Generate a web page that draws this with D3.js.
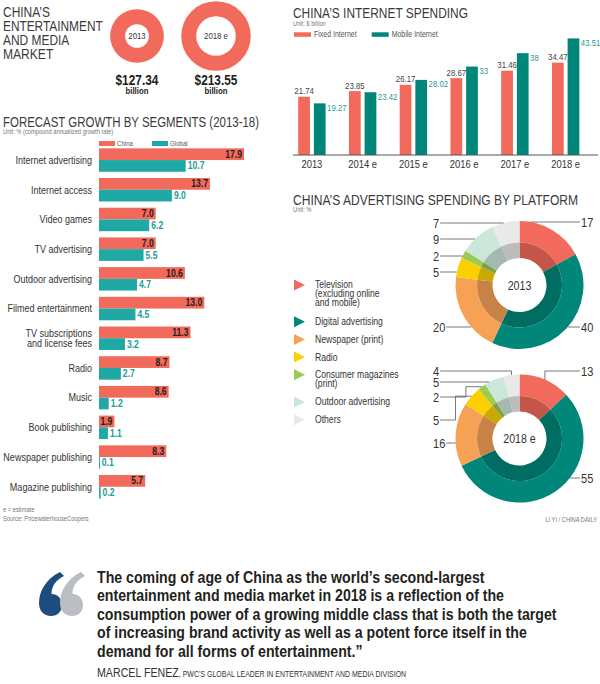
<!DOCTYPE html>
<html lang="en">
<head>
  <meta charset="UTF-8">
  <title>China's Entertainment and Media Market</title>
  <script src="https://d3js.org/d3.v7.min.js"></script>
  <style>
    body { margin: 0; padding: 0; background: #fff; }
    svg { display: block; font-family: 'Liberation Sans', Arial, sans-serif; }
  </style>
</head>
<body>
  <svg id="chart" width="600" height="684"></svg>

  <script>
    // Market size, $ billion
    const marketYears = ["2013", "2018 e"];
    const marketValues = [127.34, 213.55];

    // Forecast growth by segment 2013-18, % CAGR
    const segments = ["Internet advertising", "Internet access", "Video games", "TV advertising",
      "Outdoor advertising", "Filmed entertainment", "TV subscriptions\nand license fees", "Radio",
      "Music", "Book publishing", "Newspaper publishing", "Magazine publishing"];
    const chinaGrowth = [17.9, 13.7, 7.0, 7.0, 10.6, 13.0, 11.3, 8.7, 8.6, 1.9, 8.3, 5.7];
    const globalGrowth = [10.7, 9.0, 6.2, 5.5, 4.7, 4.5, 3.2, 2.7, 1.2, 1.1, 0.1, 0.2];

    // Internet spending, $ billion
    const spendYears = ["2013", "2014 e", "2015 e", "2016 e", "2017 e", "2018 e"];
    const fixedInternet = [21.74, 23.85, 26.17, 28.67, 31.46, 34.47];
    const mobileInternet = [19.27, 23.42, 28.02, 33, 38, 43.51];

    // Advertising spending by platform, %
    const platforms = ["Television\n(excluding online\nand mobile)", "Digital advertising", "Newspaper (print)",
      "Radio", "Consumer magazines\n(print)", "Outdoor advertising", "Others"];
    const adYears = ["2013", "2018 e"];
    const adShare2013 = [17, 40, 20, 5, 2, 9, 7];
    const adShare2018 = [13, 55, 16, 5, 2, 5, 4];

    // colours
    const RED = "#f26a5b", TEAL = "#1fa8a4", DARK_TEAL = "#00877a";
    const platformColors = [RED, DARK_TEAL, "#f7a155", "#fcd000", "#9cca55", "#cbe7d9", "#e9e9e9"];

    // hand placed label rows for the two donuts (layout only)
    const labelRows2013 = [222, 327, 327, 272, 256, 239, 223];
    const labelRows2018 = [371, 478, 443, 420, 397, 382, 371];

    const K = 0.82; // horizontal squeeze to fake a condensed face

    const svg = d3.select("#chart");

    function heading(x, y, text, width) {
      svg.append("text")
        .attr("x", x).attr("y", y)
        .attr("font-size", 14).attr("fill", "#3a3a3a")
        .attr("textLength", width).attr("lengthAdjust", "spacingAndGlyphs")
        .text(text);
    }
    function note(x, y, text, anchor) {
      svg.append("text")
        .attr("x", x).attr("y", y)
        .attr("font-size", 7).attr("fill", "#777")
        .attr("text-anchor", anchor || "start")
        .text(text);
    }

    // ---------- top left: market size rings ----------
    ["CHINA’S", "ENTERTAINMENT", "AND MEDIA", "MARKET"].forEach((t, i) => {
      heading(3, 17.3 + i * 14, t, [47, 99.7, 66.3, 50.3][i]);
    });

    const rMarket = d3.scaleSqrt().domain([0, d3.max(marketValues)]).range([0, 34.8]);
    const xMarket = d3.scalePoint().domain(marketYears).range([137, 216]);
    marketYears.forEach((yr, i) => {
      const r = rMarket(marketValues[i]);
      const cx = xMarket(yr);
      svg.append("path")
        .attr("transform", `translate(${cx},36)`)
        .attr("d", d3.arc().innerRadius(r - 15).outerRadius(r)({ startAngle: 0, endAngle: 2 * Math.PI }))
        .attr("fill", RED);
      svg.append("text").attr("x", cx).attr("y", 39.5).attr("text-anchor", "middle")
        .attr("font-size", 9.5).attr("fill", "#333").text(yr);
      svg.append("text").attr("x", cx).attr("y", 85).attr("text-anchor", "middle")
        .attr("font-size", 14.5).attr("font-weight", "bold").attr("fill", "#231f20")
        .text("$" + marketValues[i].toFixed(2));
      svg.append("text").attr("x", cx).attr("y", 94.5).attr("text-anchor", "middle")
        .attr("font-size", 9.5).attr("font-weight", "bold").attr("fill", "#231f20")
        .text("billion");
    });

    // ---------- left: forecast growth bars ----------
    heading(3, 127.3, "FORECAST GROWTH BY SEGMENTS (2013-18)", 256);
    note(3, 134.5, "Unit: % (compound annualized growth rate)");

    const xGrowth = d3.scaleLinear().domain([0, 20]).range([99, 261]);
    const step = 29.7;
    const yGrowth = d3.scaleBand().domain(segments)
      .range([145.2, 145.2 + segments.length * step])
      .paddingInner(0.21).paddingOuter(0.105);
    const half = yGrowth.bandwidth() / 2;

    [["China", RED, 99], ["Global", TEAL, 152]].forEach(([name, col, x]) => {
      svg.append("rect").attr("x", x).attr("y", 141).attr("width", 16).attr("height", 5).attr("fill", col);
      svg.append("text").attr("x", x + 18).attr("y", 146.5).attr("font-size", 7.5).attr("fill", "#555").text(name);
    });

    segments.forEach((seg, i) => {
      const y0 = yGrowth(seg);
      svg.append("rect")
        .attr("x", xGrowth(0)).attr("y", y0)
        .attr("width", xGrowth(chinaGrowth[i]) - xGrowth(0)).attr("height", half)
        .attr("fill", RED);
      svg.append("rect")
        .attr("x", xGrowth(0)).attr("y", y0 + half)
        .attr("width", Math.max(1, xGrowth(globalGrowth[i]) - xGrowth(0))).attr("height", half)
        .attr("fill", TEAL);
      svg.append("text")
        .attr("x", xGrowth(chinaGrowth[i]) - 2).attr("y", y0 + half - 2.3)
        .attr("text-anchor", "end").attr("font-size", 10.5).attr("font-weight", "bold")
        .attr("fill", "#231f20").text(chinaGrowth[i].toFixed(1));
      svg.append("text")
        .attr("x", xGrowth(globalGrowth[i]) + 2).attr("y", y0 + 2 * half - 2.3)
        .attr("font-size", 10.5).attr("font-weight", "bold")
        .attr("fill", "#1a9e99").text(globalGrowth[i].toFixed(1));

      const lines = seg.split("\n");
      const mid = y0 + half;
      lines.forEach((ln, j) => {
        svg.append("text")
          .attr("x", 92).attr("y", mid + 3.8 + (j - (lines.length - 1) / 2) * 9.6)
          .attr("text-anchor", "end").attr("font-size", 11).attr("fill", "#333")
          .text(ln);
      });
    });

    note(3, 512.5, "e = estimate");
    note(3, 521.5, "Source: PricewaterhouseCoopers");

    // ---------- top right: internet spending ----------
    heading(293, 18.3, "CHINA’S INTERNET SPENDING", 175);
    note(293, 26.5, "Unit: $ billion");
    [["Fixed Internet", RED, 294], ["Mobile Internet", DARK_TEAL, 371.7]].forEach(([name, col, x]) => {
      svg.append("rect").attr("x", x).attr("y", 32.3).attr("width", 17).attr("height", 4.5).attr("fill", col);
      svg.append("text").attr("x", x + 20).attr("y", 37.5).attr("font-size", 8.5).attr("fill", "#555").text(name);
    });

    const xSpend = d3.scaleBand().domain(spendYears).range([286.5, 591]);
    const xSeries = d3.scaleBand().domain(["fixed", "mobile"]).range([11.7, 39.1]).paddingInner(0.25);
    const ySpend = d3.scaleLinear().domain([0, 50]).range([155, 21]);

    spendYears.forEach((yr, i) => {
      const xf = xSpend(yr) + xSeries("fixed"), xm = xSpend(yr) + xSeries("mobile");
      const w = xSeries.bandwidth();
      svg.append("rect").attr("x", xf).attr("y", ySpend(fixedInternet[i]))
        .attr("width", w).attr("height", ySpend(0) - ySpend(fixedInternet[i])).attr("fill", RED);
      svg.append("rect").attr("x", xm).attr("y", ySpend(mobileInternet[i]))
        .attr("width", w).attr("height", ySpend(0) - ySpend(mobileInternet[i])).attr("fill", DARK_TEAL);
      svg.append("text").attr("x", xf + w / 2).attr("y", ySpend(fixedInternet[i]) - 2.5)
        .attr("text-anchor", "middle").attr("font-size", 9.5).attr("fill", "#444")
        .text(String(fixedInternet[i]));
      svg.append("text").attr("x", xm + w + 1.5).attr("y", ySpend(mobileInternet[i]) + 7.5)
        .attr("font-size", 9.5).attr("fill", "#2a9a92")
        .text(String(mobileInternet[i]));
    });

    const axis = svg.append("g").attr("transform", `translate(0,${ySpend(0)})`)
      .call(d3.axisBottom(xSpend).tickSize(0));
    axis.select(".domain").remove();
    axis.selectAll("text").attr("dy", null).attr("y", 13)
      .attr("font-size", 11.5).attr("fill", "#333").attr("font-family", null);
    svg.append("line").attr("x1", 293).attr("x2", 598)
      .attr("y1", ySpend(0)).attr("y2", ySpend(0))
      .attr("stroke", "#555").attr("stroke-width", 1);

    // ---------- right: advertising spending donuts ----------
    heading(293, 205, "CHINA’S ADVERTISING SPENDING BY PLATFORM", 285);
    note(293, 212, "Unit: %");

    // legend
    let ly = 285;
    platforms.forEach((p, i) => {
      const lines = p.split("\n");
      svg.append("path").attr("d", "M0,-5.5L11,0L0,5.5Z")
        .attr("transform", `translate(294,${ly})`).attr("fill", platformColors[i]);
      lines.forEach((ln, j) => {
        svg.append("text").attr("x", 315).attr("y", ly + 3.5 + j * 9)
          .attr("font-size", 10.5).attr("fill", "#333").text(ln);
      });
      ly += 17.7 + (lines.length - 1) * 9.5;
    });

    const R_OUT = 64, R_MID = 42.5, R_IN = 27;
    function drawDonut(cx, cy, year, shares, rows) {
      const g = svg.append("g").attr("transform", `translate(${cx},${cy})`);
      const arcs = d3.pie().sort(null).value(d => d)(shares);
      const outer = d3.arc().innerRadius(R_MID).outerRadius(R_OUT);
      const inner = d3.arc().innerRadius(R_IN).outerRadius(R_MID);
      g.selectAll("path.o").data(arcs).join("path").attr("class", "o")
        .attr("d", outer).attr("fill", (d, i) => platformColors[i]);
      g.selectAll("path.i").data(arcs).join("path").attr("class", "i")
        .attr("d", inner).attr("fill", (d, i) => d3.color(platformColors[i]).darker(0.6));
      g.append("text").attr("x", 0).attr("y", 4.5).attr("text-anchor", "middle")
        .attr("font-size", 13).attr("fill", "#333").text(year);

      const line = d3.line();
      arcs.forEach((a, i) => {
        const mid = (a.startAngle + a.endAngle) / 2;
        const side = mid < Math.PI ? 1 : -1;
        const y = rows[i] - cy;
        const tx = side > 0 ? 581 - cx : 433 - cx;
        const txt = g.append("text")
          .attr("x", tx).attr("y", y + 4.7)
          .attr("font-size", 13.5).attr("fill", "#333")
          .text(shares[i]);
        const start = side > 0 ? 580 - cx : tx + txt.node().getComputedTextLength() * K + 1;
        const ax = R_OUT * Math.sin(mid), ay = -R_OUT * Math.cos(mid);
        let pts;
        if (Math.abs(y) < R_OUT) {
          const hx = side * Math.sqrt(R_OUT * R_OUT - y * y);
          let ang = Math.atan2(hx, -y);
          if (ang < 0) ang += 2 * Math.PI;
          if (ang >= a.startAngle && ang <= a.endAngle) {
            pts = [[start, y], [hx, y]];
          } else {
            const ex = ax + side * 16;
            pts = [[start, y], [ex, y], [ex, ay], [ax, ay]];
          }
        } else {
          pts = [[start, y], [ax, y], [ax, ay]];
        }
        g.append("path").attr("d", line(pts))
          .attr("fill", "none").attr("stroke", "#555").attr("stroke-width", 0.8);
      });
    }
    drawDonut(519.5, 285, adYears[0], adShare2013, labelRows2013);
    drawDonut(519.5, 438.5, adYears[1], adShare2018, labelRows2018);

    note(597, 522, "LI YI / CHINA DAILY", "end");

    // ---------- bottom: quote ----------
    const qm = "M21,0C7,7 0,19 0,31C0,39 5,44 12,44C18.5,44 23,39.5 23,33C23,26.5 18.5,22 12.5,22C12.5,14 17,8 25,4Z";
    svg.append("path").attr("d", qm).attr("transform", "translate(39,572)").attr("fill", "#1c4c80");
    svg.append("path").attr("d", qm).attr("transform", "translate(60,572)").attr("fill", "#babdc1");

    const attr = svg.append("text").attr("x", 97).attr("y", 677).attr("fill", "#333");
    attr.append("tspan").attr("font-size", 13).text("MARCEL FENEZ");
    attr.append("tspan").attr("font-size", 8.5).text(", PWC’S GLOBAL LEADER IN ENTERTAINMENT AND MEDIA DIVISION");

    // squeeze every plain text towards a condensed look
    svg.selectAll("text").filter(function () { return !this.hasAttribute("textLength"); })
      .each(function () {
        const x = +this.getAttribute("x") || 0;
        d3.select(this).attr("transform", `translate(${x},0) scale(${K},1) translate(${-x},0)`);
      });

    const quoteLines = [
      "The coming of age of China as the world’s second-largest",
      "entertainment and media market in 2018 is a reflection of the",
      "consumption power of a growing middle class that is both the target",
      "of increasing brand activity as well as a potent force itself in the",
      "demand for all forms of entertainment.”"
    ];
    const gq = svg.append("g");
    const qTexts = quoteLines.map((t, i) => gq.append("text")
      .attr("x", 0).attr("y", 583 + i * 18.4)
      .attr("font-size", 17).attr("font-weight", "bold").attr("fill", "#231f20")
      .text(t));
    const widest = d3.max(qTexts, t => t.node().getComputedTextLength());
    gq.attr("transform", `translate(97,0) scale(${460 / widest},1)`);
  </script>
</body>
</html>
